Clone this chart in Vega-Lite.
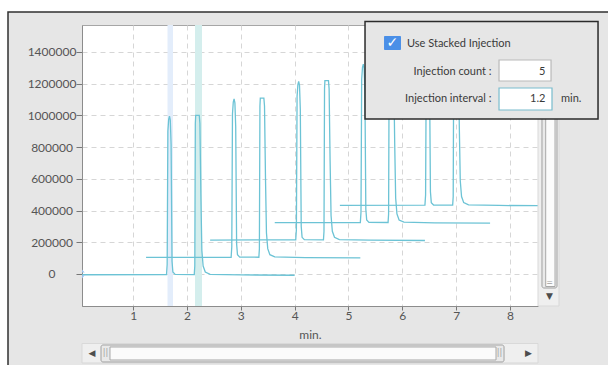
{
  "$schema": "https://vega.github.io/schema/vega-lite/v6.json",
  "width": 456,
  "height": 281,
  "autosize": {"type": "none"},
  "padding": {"left": 82, "top": 25, "right": 70, "bottom": 59},
  "background": "#e6e6e6",
  "config": {
    "view": {"fill": "white", "stroke": "#a6a6a6"},
    "axis": {
      "labelFont": "Lato",
      "labelFontSize": 12,
      "labelColor": "#555555",
      "tickColor": "#777777",
      "domainColor": "#8c8c8c",
      "gridColor": "#d6d6d6",
      "gridDash": [5, 4],
      "titleFont": "Lato",
      "titleFontSize": 12,
      "titleFontWeight": "normal",
      "titleColor": "#555555",
      "labelFlush": false
    }
  },
  "datasets": {
    "traces": [
      {"t":0,"x":0.0,"y":-5000},{"t":0,"x":1.62,"y":-4000},{"t":0,"x":1.632,"y":60000},{"t":0,"x":1.645,"y":900000},{"t":0,"x":1.66,"y":975000},{"t":0,"x":1.675,"y":995000},{"t":0,"x":1.69,"y":970000},{"t":0,"x":1.705,"y":820000},{"t":0,"x":1.722,"y":80000},{"t":0,"x":1.738,"y":12000},{"t":0,"x":1.78,"y":-3000},{"t":0,"x":2.135,"y":-4000},{"t":0,"x":2.145,"y":50000},{"t":0,"x":2.155,"y":950000},{"t":0,"x":2.162,"y":1000000},{"t":0,"x":2.228,"y":1000000},{"t":0,"x":2.24,"y":950000},{"t":0,"x":2.258,"y":500000},{"t":0,"x":2.276,"y":150000},{"t":0,"x":2.3,"y":50000},{"t":0,"x":2.34,"y":12000},{"t":0,"x":2.43,"y":-2000},{"t":0,"x":3.0,"y":-6000},{"t":0,"x":4.0,"y":-8000},
      {"t":1,"x":1.24,"y":104500},{"t":1,"x":2.82,"y":105500},{"t":1,"x":2.832,"y":169500},{"t":1,"x":2.845,"y":1009500},{"t":1,"x":2.86,"y":1084500},{"t":1,"x":2.875,"y":1104500},{"t":1,"x":2.89,"y":1079500},{"t":1,"x":2.905,"y":929500},{"t":1,"x":2.922,"y":189500},{"t":1,"x":2.938,"y":121500},{"t":1,"x":2.98,"y":106500},{"t":1,"x":3.335,"y":105500},{"t":1,"x":3.345,"y":159500},{"t":1,"x":3.355,"y":1059500},{"t":1,"x":3.362,"y":1109500},{"t":1,"x":3.428,"y":1109500},{"t":1,"x":3.44,"y":1059500},{"t":1,"x":3.458,"y":609500},{"t":1,"x":3.476,"y":259500},{"t":1,"x":3.5,"y":159500},{"t":1,"x":3.54,"y":121500},{"t":1,"x":3.63,"y":107500},{"t":1,"x":4.2,"y":103500},{"t":1,"x":5.22,"y":101500},
      {"t":2,"x":2.43,"y":214000},{"t":2,"x":4.02,"y":215000},{"t":2,"x":4.032,"y":279000},{"t":2,"x":4.045,"y":1119000},{"t":2,"x":4.06,"y":1194000},{"t":2,"x":4.075,"y":1214000},{"t":2,"x":4.09,"y":1189000},{"t":2,"x":4.105,"y":1039000},{"t":2,"x":4.122,"y":299000},{"t":2,"x":4.138,"y":231000},{"t":2,"x":4.18,"y":216000},{"t":2,"x":4.535,"y":215000},{"t":2,"x":4.545,"y":269000},{"t":2,"x":4.555,"y":1169000},{"t":2,"x":4.562,"y":1219000},{"t":2,"x":4.628,"y":1219000},{"t":2,"x":4.64,"y":1169000},{"t":2,"x":4.658,"y":719000},{"t":2,"x":4.676,"y":369000},{"t":2,"x":4.7,"y":269000},{"t":2,"x":4.74,"y":231000},{"t":2,"x":4.83,"y":217000},{"t":2,"x":5.4,"y":213000},{"t":2,"x":6.42,"y":211000},
      {"t":3,"x":3.63,"y":323500},{"t":3,"x":5.22,"y":324500},{"t":3,"x":5.232,"y":388500},{"t":3,"x":5.245,"y":1228500},{"t":3,"x":5.26,"y":1303500},{"t":3,"x":5.275,"y":1323500},{"t":3,"x":5.29,"y":1298500},{"t":3,"x":5.305,"y":1148500},{"t":3,"x":5.322,"y":408500},{"t":3,"x":5.338,"y":340500},{"t":3,"x":5.38,"y":325500},{"t":3,"x":5.735,"y":324500},{"t":3,"x":5.745,"y":378500},{"t":3,"x":5.755,"y":1278500},{"t":3,"x":5.762,"y":1328500},{"t":3,"x":5.828,"y":1328500},{"t":3,"x":5.84,"y":1278500},{"t":3,"x":5.858,"y":828500},{"t":3,"x":5.876,"y":478500},{"t":3,"x":5.9,"y":378500},{"t":3,"x":5.94,"y":340500},{"t":3,"x":6.03,"y":326500},{"t":3,"x":6.6,"y":322500},{"t":3,"x":7.63,"y":320500},
      {"t":4,"x":4.84,"y":433000},{"t":4,"x":6.42,"y":434000},{"t":4,"x":6.432,"y":498000},{"t":4,"x":6.445,"y":1338000},{"t":4,"x":6.46,"y":1413000},{"t":4,"x":6.475,"y":1433000},{"t":4,"x":6.49,"y":1408000},{"t":4,"x":6.505,"y":1258000},{"t":4,"x":6.522,"y":518000},{"t":4,"x":6.538,"y":450000},{"t":4,"x":6.58,"y":435000},{"t":4,"x":6.935,"y":434000},{"t":4,"x":6.945,"y":488000},{"t":4,"x":6.955,"y":1388000},{"t":4,"x":6.962,"y":1438000},{"t":4,"x":7.028,"y":1438000},{"t":4,"x":7.04,"y":1388000},{"t":4,"x":7.058,"y":938000},{"t":4,"x":7.076,"y":588000},{"t":4,"x":7.1,"y":488000},{"t":4,"x":7.14,"y":450000},{"t":4,"x":7.23,"y":436000},{"t":4,"x":7.8,"y":432000},{"t":4,"x":8.8,"y":430000}
    ]
  },
  "encoding": {
    "x": {
      "field": "x",
      "type": "quantitative",
      "scale": {"domain": [0.05, 8.52], "nice": false, "zero": false},
      "axis": {"values": [1, 2, 3, 4, 5, 6, 7, 8], "title": "min.", "tickSize": 4, "labelPadding": 0, "titlePadding": 8, "grid": true}
    },
    "y": {
      "field": "y",
      "type": "quantitative",
      "scale": {"domain": [-202000, 1570000], "nice": false, "zero": false},
      "axis": {"values": [0, 200000, 400000, 600000, 800000, 1000000, 1200000, 1400000], "format": "d", "title": null, "tickSize": 6, "labelAlign": "center", "labelBaseline": "middle", "labelPadding": 24.5, "grid": true}
    }
  },
  "layer": [
    {
      "data": {"values": [
        {"x": -1.6, "x2": 9.9, "y": 1651964, "y2": 1800000},
        {"x": -1.6, "x2": -1.3245, "y": -650000, "y2": 1800000}
      ]},
      "mark": {"type": "rect", "fill": "white"},
      "encoding": {"x2": {"field": "x2"}, "y2": {"field": "y2"}}
    },
    {
      "data": {"values": [{"x": -1.3245, "x2": 10.3, "y": -700000, "y2": 1651964}]},
      "mark": {"type": "rect", "fill": "transparent", "stroke": "#303030", "strokeWidth": 1.5},
      "encoding": {"x2": {"field": "x2"}, "y2": {"field": "y2"}}
    },
    {
      "data": {"values": [
        {"peak": "p1", "x": 1.638, "x2": 1.74, "y": -202000, "y2": 1570000},
        {"peak": "p2", "x": 2.149, "x2": 2.279, "y": -202000, "y2": 1570000}
      ]},
      "mark": {"type": "rect"},
      "encoding": {
        "x2": {"field": "x2"},
        "y2": {"field": "y2"},
        "color": {"field": "peak", "type": "nominal", "scale": {"domain": ["p1", "p2"], "range": ["#e3edfb", "#d4eeed"]}, "legend": null}
      }
    },
    {
      "data": {"name": "traces"},
      "mark": {"type": "line", "clip": true, "color": "#6cc3d5", "strokeWidth": 1.3},
      "encoding": {"detail": {"field": "t", "type": "nominal"}}
    },
    {
      "data": {"values": [{"x": 0.05, "y": 0}]},
      "mark": {"type": "point", "filled": true, "shape": "M0,-1L0.6,-0.3L0,-0.3Z M0,1L0.6,0.3L0,0.3Z", "size": 81, "color": "#9fc3f0", "opacity": 1}
    },
    {
      "data": {"values": [
        {"x": 8.52, "x2": 8.91, "y": -202000, "y2": 1570000},
        {"x": 0.05, "x2": 8.52, "y": -561442, "y2": -438475}
      ]},
      "mark": {"type": "rect", "fill": "#efefef", "stroke": "#d9d9d9"},
      "encoding": {"x2": {"field": "x2"}, "y2": {"field": "y2"}}
    },
    {
      "data": {"values": [
        {"x": 8.594, "x2": 8.873, "y": -88492, "y2": 1557374},
        {"x": 0.403, "x2": 7.889, "y": -555136, "y2": -447934}
      ]},
      "mark": {"type": "rect", "fill": "#e9e9e9", "stroke": "#a0a0a0", "cornerRadius": 2},
      "encoding": {"x2": {"field": "x2"}, "y2": {"field": "y2"}}
    },
    {
      "data": {"values": [
        {"x": 8.663, "x2": 8.836, "y": -79033, "y2": 1557374},
        {"x": 0.57, "x2": 7.74, "y": -542524, "y2": -460546}
      ]},
      "mark": {"type": "rect", "fill": "#fbfbfb", "stroke": "#a8a8a8"},
      "encoding": {"x2": {"field": "x2"}, "y2": {"field": "y2"}}
    },
    {
      "data": {"values": [
        {"x": 8.734, "y": -138940, "label": "▼"},
        {"x": 0.236, "y": -501535, "label": "◀"},
        {"x": 8.344, "y": -501535, "label": "▶"}
      ]},
      "mark": {"type": "text", "font": "DejaVu Sans", "fontSize": 9, "color": "#4d4d4d", "align": "center", "baseline": "middle"},
      "encoding": {"text": {"field": "label"}}
    },
    {
      "data": {"values": [
        {"x": 8.734, "y": -53809, "label": "="},
        {"x": 0.486, "y": -501535, "label": "||"},
        {"x": 7.805, "y": -501535, "label": "||"}
      ]},
      "mark": {"type": "text", "font": "DejaVu Sans", "fontSize": 8, "color": "#a0a0a0", "align": "center", "baseline": "middle"},
      "encoding": {"text": {"field": "label"}}
    },
    {
      "data": {"values": [{"x": 5.307, "x2": 9.635, "y": 977222, "y2": 1592057}]},
      "mark": {"type": "rect", "fill": "#e6e6e6", "stroke": "#2b2b2b", "strokeWidth": 1.5},
      "encoding": {"x2": {"field": "x2"}, "y2": {"field": "y2"}}
    },
    {
      "data": {"values": [{"x": 5.66, "x2": 5.975, "y": 1412336, "y2": 1500620}]},
      "mark": {"type": "rect", "fill": "#4a8fe7", "cornerRadius": 1},
      "encoding": {"x2": {"field": "x2"}, "y2": {"field": "y2"}}
    },
    {
      "data": {"values": [{"x": 5.817, "y": 1456478, "label": "✓"}]},
      "mark": {"type": "text", "font": "DejaVu Sans", "fontSize": 14, "fontWeight": "bold", "color": "white", "align": "center", "baseline": "middle"},
      "encoding": {"text": {"field": "label"}}
    },
    {
      "data": {"values": [
        {"box": "count", "x": 7.796, "x2": 8.762, "y": 1216850, "y2": 1349276},
        {"box": "interval", "x": 7.796, "x2": 8.78, "y": 1033976, "y2": 1172708}
      ]},
      "mark": {"type": "rect", "fill": "white", "strokeWidth": 1.2},
      "encoding": {
        "x2": {"field": "x2"},
        "y2": {"field": "y2"},
        "stroke": {"field": "box", "type": "nominal", "scale": {"domain": ["count", "interval"], "range": ["#b9b9b9", "#79bccd"]}, "legend": null}
      }
    },
    {
      "data": {"values": [
        {"x": 6.087, "y": 1434407, "label": "Use Stacked Injection"},
        {"x": 8.947, "y": 1082532, "label": "min."}
      ]},
      "mark": {"type": "text", "font": "Lato", "fontSize": 11, "color": "#3a3a3a", "align": "left", "baseline": "alphabetic"},
      "encoding": {"text": {"field": "label"}}
    },
    {
      "data": {"values": [
        {"x": 7.656, "y": 1254686, "label": "Injection count :"},
        {"x": 7.656, "y": 1082532, "label": "Injection interval :"},
        {"x": 8.659, "y": 1254686, "label": "5"},
        {"x": 8.659, "y": 1082532, "label": "1.2"}
      ]},
      "mark": {"type": "text", "font": "Lato", "fontSize": 11, "color": "#3a3a3a", "align": "right", "baseline": "alphabetic"},
      "encoding": {"text": {"field": "label"}}
    }
  ]
}
